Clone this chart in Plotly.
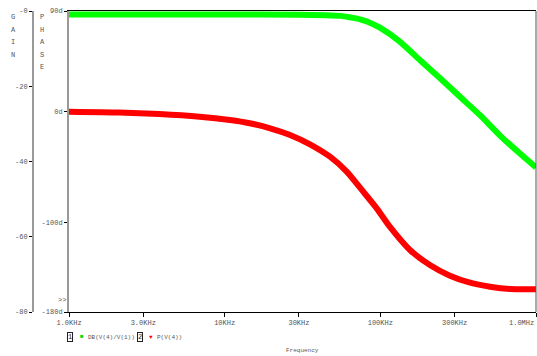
import plotly.graph_objects as go

# ---- data ----
gain_freq_hz = [1e3, 3e3, 10e3, 30e3, 45e3, 56e3, 64e3, 74e3, 82e3, 100e3, 134e3, 180e3,
                242e3, 325e3, 437e3, 587e3, 789e3, 1e6]
gain_db = [-0.9, -0.9, -0.9, -1.0, -1.1, -1.3, -1.7, -2.2, -2.8, -4.5, -8.2, -13.1,
           -17.9, -22.8, -27.7, -33.1, -37.9, -41.6]

phase_freq_hz = [1.0e3, 2.1e3, 3.8e3, 6.9e3, 10.8e3, 14.5e3, 19.6e3, 26.3e3, 35.3e3, 47.5e3,
                 60.8e3, 77.7e3, 94.8e3, 115e3, 155e3, 208e3, 280e3, 377e3, 506e3, 681e3, 1e6]
phase_deg = [-0.3, -1.0, -2.4, -4.8, -7.8, -10.7, -15.2, -21.2, -29.6, -40.7,
             -54.1, -72.1, -87.0, -103.5, -124.4, -137.8, -147.4, -153.7, -157.3, -159.4, -159.6]

x_tick_vals = [1e3, 3e3, 10e3, 30e3, 100e3, 300e3, 1e6]
x_tick_text = ["1.0KHz", "3.0KHz", "10KHz", "30KHz", "100KHz", "300KHz", "1.0MHz"]
phase_tick_vals = [90, 0, -100, -180]
phase_tick_text = ["90d", "0d", "-100d", "-180d"]
gain_tick_vals = [0, -20, -40, -60, -80]
gain_tick_text = ["-0", "-20", "-40", "-60", "-80"]

W, H = 537, 356
FONT = "Liberation Mono"
TXT = "#555555"

fig = go.Figure()
fig.add_trace(go.Scatter(x=gain_freq_hz, y=gain_db, mode="lines", yaxis="y2",
                         line=dict(color="#00ff00", width=6, shape="spline", smoothing=0.6),
                         showlegend=False, hoverinfo="skip"))
fig.add_trace(go.Scatter(x=phase_freq_hz, y=phase_deg, mode="lines", yaxis="y",
                         line=dict(color="#ff0000", width=6, shape="spline", smoothing=0.6),
                         showlegend=False, hoverinfo="skip"))

# the last x label sits flush with the right edge (drawn as an annotation below)
axis_tick_text = x_tick_text[:-1] + [""]

x0, x1 = 69 / W, 536 / W
fig.update_layout(
    width=W, height=H,
    margin=dict(l=0, r=0, t=11, b=44, autoexpand=False),
    paper_bgcolor="white", plot_bgcolor="white",
    font=dict(family=FONT, size=7, color=TXT),
    xaxis=dict(type="log", range=[3, 6], domain=[x0, x1], automargin=False,
               tickvals=x_tick_vals, ticktext=axis_tick_text, ticklabeloverflow="allow",
               showgrid=False, zeroline=False,
               showline=True, linecolor="black", linewidth=1, mirror=True,
               ticks="outside", ticklen=4, tickcolor="black",
               tickfont=dict(family=FONT, size=7, color=TXT)),
    yaxis=dict(range=[-180, 90], tickvals=phase_tick_vals, ticktext=phase_tick_text,
               automargin=False, ticklabeloverflow="allow",
               showgrid=False, zeroline=False,
               showline=True, linecolor="#999999", linewidth=2,
               ticks="outside", ticklen=3, tickcolor="black",
               tickfont=dict(family=FONT, size=7, color=TXT)),
    yaxis2=dict(range=[-80, 0], tickvals=gain_tick_vals, ticktext=gain_tick_text,
                overlaying="y", side="left", anchor="free", position=33 / W,
                automargin=False, ticklabeloverflow="allow",
                showgrid=False, zeroline=False,
                showline=True, linecolor="#999999", linewidth=2,
                ticks="outside", ticklen=3, tickcolor="black",
                tickfont=dict(family=FONT, size=7, color=TXT)),
)

# right border
fig.add_shape(type="line", xref="paper", yref="paper", x0=x1, x1=x1, y0=0, y1=1,
              line=dict(color="#555555", width=1))

def px_ann(text, x, y, size=7, color=TXT, xanchor="center", **kw):
    # x,y in pixel coordinates of the page (origin top-left)
    fig.add_annotation(text=text, x=x / W, y=1 - (y - 11) / (H - 11 - 44),
                       xref="paper", yref="paper", showarrow=False,
                       xanchor=xanchor, yanchor="middle",
                       font=dict(family=FONT, size=size, color=color), **kw)

px_ann(x_tick_text[-1], 536, 323, xanchor="right")

for i, ch in enumerate("GAIN"):
    px_ann(ch, 13, 17 + i * 12.6)
for i, ch in enumerate("PHASE"):
    px_ann(ch, 42, 17 + i * 12.6)

px_ann("&gt;&gt;", 62, 300)

# legend row
px_ann("1", 70, 337, size=7, color="#222222", bordercolor="#222222", borderwidth=1,
       borderpad=0, bgcolor="white")
px_ann("■", 81.5, 336.5, size=6, color="#00dd00")
px_ann("DB(V(4)/V(1))", 86, 337, size=6, xanchor="left")
px_ann("2", 140, 337, size=7, color="#222222", bordercolor="#222222", borderwidth=1,
       borderpad=0, bgcolor="white")
px_ann("▼", 151, 337, size=6, color="#ff0000")
px_ann("P(V(4))", 155, 337, size=6, xanchor="left")
px_ann("Frequency", 302, 350, size=6)

fig.write_html("out.html")
